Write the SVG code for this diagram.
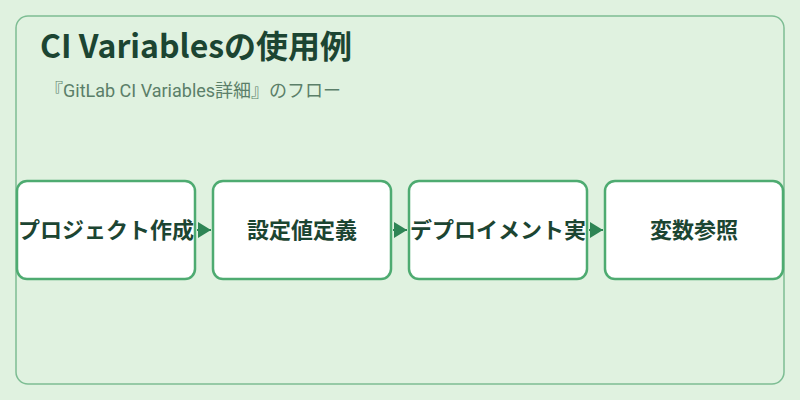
<svg xmlns="http://www.w3.org/2000/svg" width="800" height="400" viewBox="0 0 800 400">
<defs>
<style>
.bg{fill:#e0f2e0}
.frame{fill:#e0f2e0;stroke:#7dbd93;stroke-width:1.5}
.title{font-family:"Noto Sans CJK JP",sans-serif;font-weight:700;font-size:32px;fill:#1c4532}
.sub{font-family:Roboto,"Noto Sans CJK JP",sans-serif;font-size:18px;fill:#5b7f69}
.box{fill:#ffffff;stroke:#4eab71;stroke-width:2.5}
.lbl{font-family:"Noto Sans CJK JP",sans-serif;font-weight:700;font-size:22px;fill:#1c4532;text-anchor:middle}
.edge{stroke:#2e8555;stroke-width:2;fill:none}
</style>
<marker id="arr" viewBox="0 0 13 16" refX="13" refY="8" markerWidth="13" markerHeight="16" markerUnits="userSpaceOnUse" orient="auto">
<path d="M0,0 L13,8 L0,16 Z" fill="#2e8555"/>
</marker>
</defs>
<rect class="bg" x="0" y="0" width="800" height="400"/>
<rect class="frame" x="16" y="16" width="768" height="368" rx="12"/>
<text class="title" x="40" y="58">CI Variablesの使用例</text>
<text class="sub" x="45" y="97">『GitLab CI Variables詳細』のフロー</text>
<g id="connectors">
<path class="edge" d="M197,230 L211,230" marker-end="url(#arr)"/>
<path class="edge" d="M393,230 L407,230" marker-end="url(#arr)"/>
<path class="edge" d="M589,230 L603,230" marker-end="url(#arr)"/>
</g>
<g id="node1">
<rect class="box" x="17" y="181" width="178" height="98" rx="10"/>
<text class="lbl" x="106" y="238">プロジェクト作成</text>
</g>
<g id="node2">
<rect class="box" x="213" y="181" width="178" height="98" rx="10"/>
<text class="lbl" x="302" y="238">設定値定義</text>
</g>
<g id="node3">
<rect class="box" x="409" y="181" width="178" height="98" rx="10"/>
<text class="lbl" x="498" y="238">デプロイメント実</text>
</g>
<g id="node4">
<rect class="box" x="605" y="181" width="178" height="98" rx="10"/>
<text class="lbl" x="694" y="238">変数参照</text>
</g>
</svg>
